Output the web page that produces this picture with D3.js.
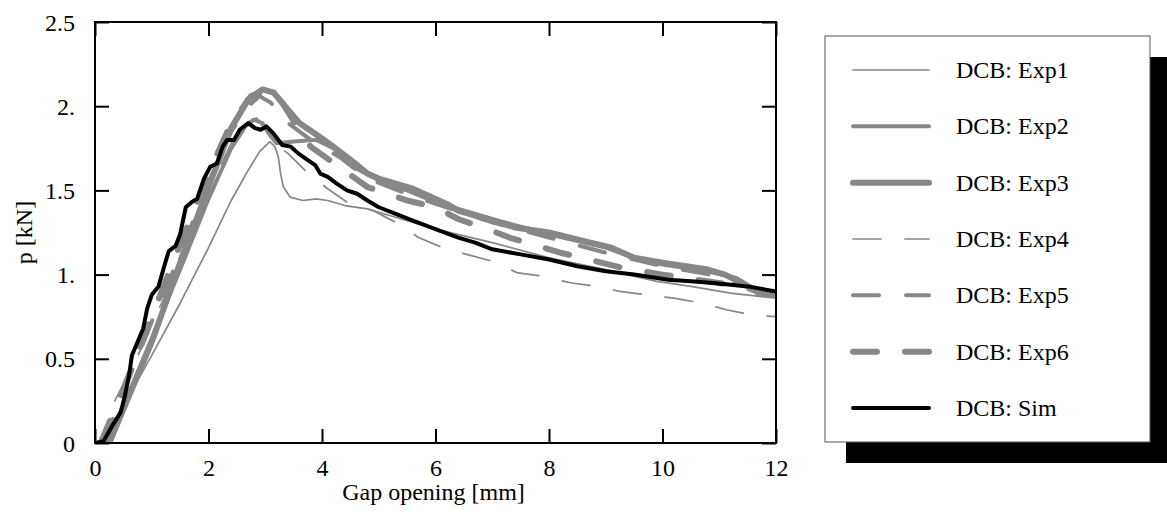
<!DOCTYPE html>
<html>
<head>
<meta charset="utf-8" />
<script src="https://cdn.jsdelivr.net/npm/d3@7"></script>
<style>
  body { margin: 0; background: #fff; }
  svg text { font-family: "Liberation Serif", Tinos, "Times New Roman", Times, "Nimbus Roman", "DejaVu Serif", serif; fill: #000; }
</style>
</head>
<body>
<div id="chart"></div>
<script>
const serif = "'Liberation Serif', Tinos, 'Times New Roman', Times, 'Nimbus Roman', 'DejaVu Serif', serif";

// ticks
const xTicks = [0, 2, 4, 6, 8, 10, 12];
const yTicks = [0, 0.5, 1, 1.5, 2, 2.5];
const yTickLabels = ["0", "0.5", "1.", "1.5", "2.", "2.5"];

const seriesNames = ["DCB: Exp1", "DCB: Exp2", "DCB: Exp3", "DCB: Exp4", "DCB: Exp5", "DCB: Exp6", "DCB: Sim"];

// [gap opening mm, p kN]
const exp1 = [[0.1,0],[0.5,0.22],[1,0.52],[1.5,0.83],[2,1.16],[2.4,1.44],[2.7,1.62],[2.9,1.73],[3.08,1.79],[3.17,1.76],
  [3.23,1.7],[3.27,1.6],[3.32,1.52],[3.44,1.46],[3.66,1.44],[3.9,1.45],[4.1,1.44],[4.4,1.41],[4.8,1.39],[5.4,1.33],
  [6,1.27],[7,1.19],[8,1.1],[9,1.03],[9.9,0.96],[10.5,0.93],[11.2,0.89],[12,0.86]];
const exp2 = [[0.2,0],[0.6,0.3],[1,0.62],[1.5,1.03],[2,1.45],[2.4,1.75],[2.65,1.88],[2.8,1.92],[2.95,1.9],[3.1,1.82],
  [3.2,1.78],[3.5,1.79],[3.9,1.8],[4.2,1.75],[4.6,1.63],[5,1.56],[5.5,1.5],[6,1.43],[7,1.33],[8,1.24],[9,1.16],
  [9.5,1.1],[10,1.06],[10.8,1.02],[11.3,0.98],[11.6,0.92],[12,0.88]];
const exp3 = [[0.25,0],[0.5,0.2],[1,0.6],[1.5,1.07],[2,1.52],[2.4,1.87],[2.7,2.04],[2.95,2.1],[3.15,2.08],[3.4,1.98],
  [3.6,1.9],[3.95,1.82],[4.2,1.76],[4.55,1.67],[4.8,1.6],[5,1.57],[5.6,1.51],[6.2,1.42],[6.4,1.38],[7.4,1.28],
  [8,1.25],[8.6,1.2],[9.1,1.16],[9.5,1.1],[10,1.07],[10.8,1.03],[11.1,1],[11.4,0.95],[11.7,0.89],[12,0.88]];
const exp4 = [[0.35,0.25],[0.8,0.55],[1.2,0.85],[1.6,1.2],[2,1.5],[2.4,1.78],[2.65,1.9],[2.85,1.93],[3,1.86],[3.15,1.78],
  [3.4,1.72],[3.73,1.61],[4.1,1.51],[4.44,1.43],[4.9,1.38],[5.3,1.31],[5.7,1.22],[6.13,1.16],[6.55,1.12],[7,1.08],
  [7.45,1.01],[7.9,0.99],[8.4,0.95],[8.85,0.93],[9.25,0.9],[9.73,0.88],[10.2,0.86],[10.7,0.83],[11.14,0.79],
  [11.6,0.76],[12,0.75]];
const exp5 = [[0.15,0],[0.5,0.3],[1,0.72],[1.5,1.12],[2,1.55],[2.4,1.85],[2.7,2],[2.9,2.06],[3.1,2.02],[3.4,1.9],
  [3.8,1.8],[4.3,1.7],[4.8,1.57],[5.5,1.48],[6,1.42],[7,1.31],[8,1.22],[9,1.13],[10,1.05],[11,0.99],[12,0.87]];
const exp6 = [[0.1,0],[0.5,0.32],[1,0.75],[1.5,1.18],[2,1.6],[2.4,1.9],[2.75,2.06],[3.05,2.1],[3.3,2.02],[3.6,1.86],
  [3.8,1.76],[4.3,1.64],[4.8,1.52],[5.5,1.44],[6,1.4],[6.4,1.33],[7,1.26],[7.3,1.22],[7.9,1.16],[8.2,1.13],
  [8.7,1.09],[9.3,1.04],[10,1],[10.6,0.97],[11.2,0.94],[12,0.88]];
const sim = [[0,0],[0.15,0.01],[0.3,0.1],[0.45,0.18],[0.52,0.27],[0.6,0.4],[0.65,0.52],[0.75,0.6],[0.85,0.68],
  [0.92,0.8],[1,0.88],[1.12,0.93],[1.22,1.05],[1.3,1.14],[1.42,1.17],[1.5,1.24],[1.6,1.4],[1.7,1.43],[1.8,1.45],
  [1.92,1.57],[2.03,1.64],[2.15,1.66],[2.25,1.76],[2.33,1.8],[2.45,1.8],[2.55,1.86],[2.7,1.9],[2.82,1.87],
  [2.92,1.86],[3.02,1.88],[3.14,1.84],[3.3,1.77],[3.45,1.76],[3.58,1.72],[3.75,1.68],[3.88,1.65],[3.97,1.6],
  [4.1,1.58],[4.26,1.54],[4.44,1.5],[4.62,1.48],[4.8,1.44],[5,1.4],[5.3,1.36],[5.6,1.32],[6,1.27],[6.4,1.22],
  [6.7,1.19],[7,1.15],[7.5,1.12],[8,1.09],[8.5,1.05],[9,1.02],[9.5,1],[10.1,0.97],[10.5,0.96],[10.9,0.95],
  [11.5,0.93],[12,0.9]];

const allSeries = [exp1, exp2, exp3, exp4, exp5, exp6, sim];

// styles
const gray = "#878787";
const styles = [
  { color: gray, width: 1.7, dash: null },
  { color: gray, width: 4, dash: null },
  { color: gray, width: 6, dash: null },
  { color: gray, width: 1.7, dash: "28,24" },
  { color: gray, width: 4, dash: "26,27" },
  { color: gray, width: 6, dash: "24,28" },
  { color: "#000", width: 4, dash: null }
];

const W = 1167, H = 512;
const plot = { left: 95, right: 776, top: 22, bottom: 443 };

const svg = d3.select("#chart").append("svg")
  .attr("width", W)
  .attr("height", H)
  .style("font-family", serif);

const x = d3.scaleLinear().domain([0, 12]).range([plot.left, plot.right]);
const y = d3.scaleLinear().domain([0, 2.5]).range([plot.bottom, plot.top]);

svg.append("defs").append("clipPath").attr("id", "clip")
  .append("rect")
  .attr("x", plot.left).attr("y", plot.top)
  .attr("width", plot.right - plot.left).attr("height", plot.bottom - plot.top);

const line = d3.line().x(d => x(d[0])).y(d => y(d[1]));

const curves = svg.append("g").attr("clip-path", "url(#clip)");
allSeries.forEach((s, i) => {
  const st = styles[i];
  curves.append("path")
    .datum(s)
    .attr("d", line)
    .attr("fill", "none")
    .attr("stroke", st.color)
    .attr("stroke-width", st.width)
    .attr("stroke-linecap", "round")
    .attr("stroke-linejoin", "round")
    .attr("stroke-dasharray", st.dash);
});

// frame with inward ticks on all four sides
const tickLen = 14;
const fmtY = d => yTickLabels[yTicks.indexOf(d)];

const axBottom = svg.append("g")
  .attr("transform", `translate(0,${plot.bottom})`)
  .call(d3.axisBottom(x).tickValues(xTicks).tickSize(-tickLen).tickFormat(d3.format("d")));
const axTop = svg.append("g")
  .attr("transform", `translate(0,${plot.top})`)
  .call(d3.axisTop(x).tickValues(xTicks).tickSize(-tickLen).tickFormat(""));
const axLeft = svg.append("g")
  .attr("transform", `translate(${plot.left},0)`)
  .call(d3.axisLeft(y).tickValues(yTicks).tickSize(-tickLen).tickPadding(tickLen + 6).tickFormat(fmtY));
const axRight = svg.append("g")
  .attr("transform", `translate(${plot.right},0)`)
  .call(d3.axisRight(y).tickValues(yTicks).tickSize(-tickLen).tickFormat(""));

[axBottom, axTop, axLeft, axRight].forEach(g => {
  g.attr("font-family", serif).attr("font-size", 24);
  g.select(".domain").remove();
  g.selectAll(".tick line").attr("stroke", "#000").attr("stroke-width", 2);
  g.selectAll(".tick text").attr("fill", "#000");
});
axBottom.selectAll(".tick text").attr("y", 33).attr("dy", null);
axLeft.selectAll(".tick text").attr("dy", "0.34em");

svg.append("rect")
  .attr("x", plot.left).attr("y", plot.top)
  .attr("width", plot.right - plot.left).attr("height", plot.bottom - plot.top)
  .attr("fill", "none").attr("stroke", "#000").attr("stroke-width", 2);

// axis titles
svg.append("text")
  .attr("x", (plot.left + plot.right) / 2 - 2)
  .attr("y", 500)
  .attr("text-anchor", "middle")
  .attr("font-size", 24)
  .text("Gap opening [mm]");

svg.append("text")
  .attr("transform", `translate(32,${(plot.top + plot.bottom) / 2}) rotate(-90)`)
  .attr("text-anchor", "middle")
  .attr("font-size", 24)
  .text("p [kN]");

// legend with drop shadow
const lg = { x: 825, y: 36, w: 325, h: 406, shadow: 21 };
svg.append("rect")
  .attr("x", lg.x + lg.shadow).attr("y", lg.y + lg.shadow)
  .attr("width", lg.w).attr("height", lg.h)
  .attr("fill", "#000");
svg.append("rect")
  .attr("x", lg.x).attr("y", lg.y)
  .attr("width", lg.w).attr("height", lg.h)
  .attr("fill", "#fff").attr("stroke", "#555").attr("stroke-width", 1);

const rowY = d3.scaleLinear().domain([0, seriesNames.length - 1]).range([70, 408]);
const rows = svg.append("g").selectAll("g")
  .data(seriesNames)
  .join("g")
  .attr("transform", (d, i) => `translate(0,${rowY(i)})`);

rows.append("line")
  .attr("x1", 853).attr("x2", 929)
  .attr("stroke", (d, i) => styles[i].color)
  .attr("stroke-width", (d, i) => styles[i].width)
  .attr("stroke-linecap", "round")
  .attr("stroke-dasharray", (d, i) => styles[i].dash);

rows.append("text")
  .attr("x", 956)
  .attr("dy", "0.33em")
  .attr("font-size", 24)
  .text(d => d);
</script>
</body>
</html>
